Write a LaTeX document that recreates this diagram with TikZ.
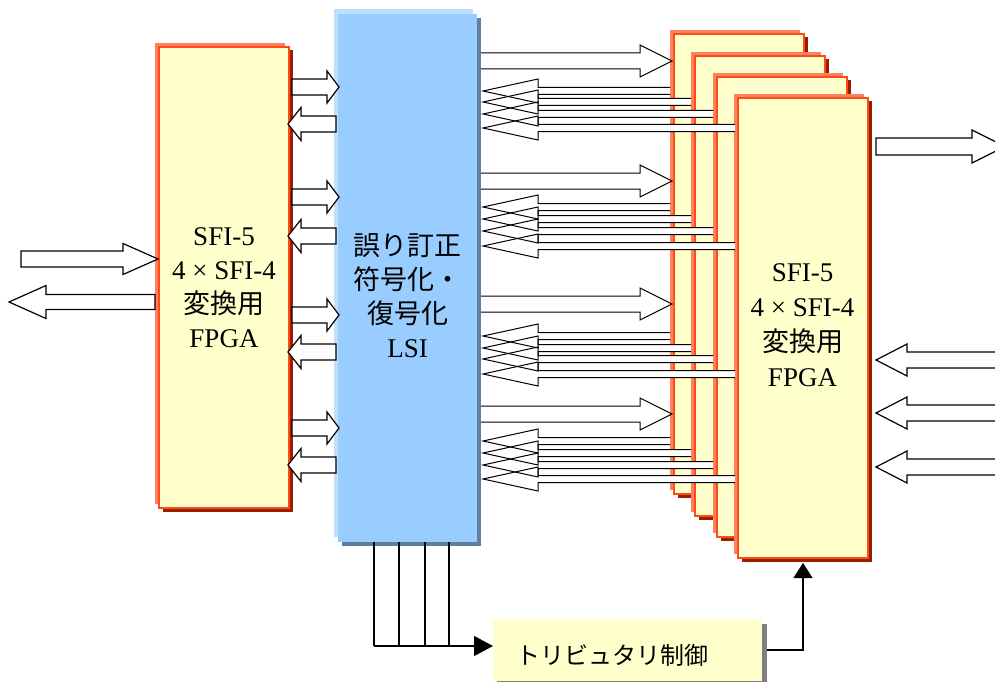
\documentclass[tikz,border=0pt]{standalone}
\usepackage{fontspec}
\setmainfont{Liberation Serif}
\newfontfamily\jp{Noto Sans CJK JP}
\usetikzlibrary{arrows.meta}
\definecolor{fpgaFill}{HTML}{FFFFCC}
\definecolor{fpgaLine}{HTML}{FF4A1A}
\definecolor{fpgaBack}{HTML}{FF7F5F}
\definecolor{fpgaShadow}{HTML}{9A1E00}
\definecolor{lsiFill}{HTML}{99CCFF}
\definecolor{lsiBack}{HTML}{BFDFFF}
\definecolor{lsiShadow}{HTML}{5F7FA0}
\definecolor{tribShadow}{HTML}{808080}
\tikzset{
  fpga/.style={draw=fpgaLine, fill=fpgaFill, line width=1.3pt, inner sep=0pt, outer sep=0pt},
  lsibox/.style={fill=lsiFill, inner sep=0pt, outer sep=0pt},
  tribbox/.style={fill=fpgaFill, inner sep=0pt, outer sep=0pt},
  blocktxt/.style={align=center, font=\fontsize{27}{34}\selectfont},
  barrow/.style={draw=black, fill=white, line width=1.2pt, line join=miter},
  tarrow/.style={draw=black, line width=1pt, line join=miter},
  conn/.style={draw=black, line width=1.1pt}
}
% block arrow: tail x, tip x, centre y, shaft half, head half, head base x
\newcommand\barr[6]{%
  \filldraw[barrow] (#1,#3-#4) -- (#6,#3-#4) -- (#6,#3-#5) -- (#2,#3) -- (#6,#3+#5) -- (#6,#3+#4) -- (#1,#3+#4) -- cycle;}
\newcommand\farr[6]{%
  \fill[white] (#1,#3-#4) -- (#6,#3-#4) -- (#6,#3-#5) -- (#2,#3) -- (#6,#3+#5) -- (#6,#3+#4) -- (#1,#3+#4) -- cycle;}
\newcommand\darr[6]{%
  \draw[tarrow] (#1,#3-#4) -- (#6,#3-#4) -- (#6,#3-#5) -- (#2,#3) -- (#6,#3+#5) -- (#6,#3+#4) -- (#1,#3+#4);}
% group of thin arrows: right centre, four left centres
\newcommand\grp[5]{%
  \farr{481}{672}{#1}{8}{16}{640}%
  \farr{670}{483}{#2}{3.5}{12}{538}%
  \farr{691}{483}{#3}{3.5}{12}{538}%
  \farr{713}{483}{#4}{3.5}{12}{538}%
  \farr{735}{483}{#5}{3.5}{12}{538}%
  \darr{481}{672}{#1}{8}{16}{640}%
  \darr{670}{483}{#2}{3.5}{12}{538}%
  \darr{691}{483}{#3}{3.5}{12}{538}%
  \darr{713}{483}{#4}{3.5}{12}{538}%
  \darr{735}{483}{#5}{3.5}{12}{538}}
% fpga box: name, x0, y0, w, h
\newcommand\fpgabox[5]{%
  \fill[fpgaShadow] (#2+4,#3+3.5) rectangle ++(#4,#5);
  \fill[fpgaBack] (#2-4,#3-4) rectangle ++(#4,#5);
  \node[fpga, minimum width=#4, minimum height=#5, anchor=north west] (#1) at (#2,#3) {};}
\begin{document}
\begin{tikzpicture}[x=1pt, y=-1pt]
\useasboundingbox (0,0) rectangle (995,682);
\clip (0,0) rectangle (995,682);

% coordinates for the LSI control lines
\coordinate (c1) at (374,646);
\coordinate (c2) at (399,646);
\coordinate (c3) at (425,646);
\coordinate (c4) at (449,646);

% LSI
\fill[lsiShadow] (342,18) rectangle (481,546);
\fill[lsiBack] (334,9) rectangle (473,537);
\node[lsibox, minimum width=139, minimum height=528, anchor=north west] (lsi) at (338,14) {};
\node[blocktxt, font=\fontsize{27}{34}\selectfont\jp] (lsit) at (407.5,296) {誤り訂正\\符号化・\\復号化\\{\rmfamily LSI}};

% left FPGA
\fpgabox{fl}{159}{47}{130}{461}
\node[blocktxt] (flt) at (224,287.5) {SFI-5\\4 × SFI-4\\{\jp 変換用}\\FPGA};

% right FPGA stack
\fpgabox{b1}{674}{34}{130}{460}
\fpgabox{b2}{695}{56}{130}{460}
\fpgabox{b3}{717}{77}{130}{460}
\fpgabox{b4}{738}{98}{130}{460}
\node[blocktxt, font=\fontsize{27}{35}\selectfont] (b4t) at (802.5,325) {SFI-5\\4 × SFI-4\\{\jp 変換用}\\FPGA};

% lines from LSI bottom to tributary control
\draw[conn] (c1 |- lsi.south) -- (c1);
\draw[conn] (c2 |- lsi.south) -- (c2);
\draw[conn] (c3 |- lsi.south) -- (c3);
\draw[conn] (c4 |- lsi.south) -- (c4);

% block arrows between left FPGA and LSI
\barr{292}{339}{87}{8}{16}{327}
\barr{336}{288}{124}{8}{16.5}{301}
\barr{292}{339}{197}{8}{16}{327}
\barr{336}{288}{236}{8}{16.5}{301}
\barr{292}{339}{315}{8}{16}{327}
\barr{336}{288}{352}{8}{16.5}{301}
\barr{292}{339}{428}{8}{16}{327}
\barr{336}{288}{465}{8}{16.5}{301}

% external arrows on the left
\barr{21}{158}{259}{8}{15.5}{123}
\barr{155}{9}{302}{7.5}{16.5}{46}

% thin arrow groups between LSI and the FPGA stack
\grp{61}{91}{102}{114}{128}
\grp{181}{207}{219}{231}{246}
\grp{304}{336}{348}{359}{374}
\grp{414}{441}{453}{465}{479}

% external arrows on the right
\barr{876}{1005}{146.5}{8.5}{16.5}{972}
\barr{1010}{876}{360}{8}{16}{907}
\barr{1010}{876}{413}{8}{16}{907}
\barr{1010}{876}{467}{8}{16}{907}

% tributary control box
\fill[tribShadow] (497,624) rectangle (767,690);
\node[tribbox, minimum width=269, minimum height=62, anchor=north west] (trib) at (493,619) {};
\node[font=\fontsize{24}{28}\selectfont\jp] (tribt) at (612.5,655) {トリビュタリ制御};

\draw[conn, -{Triangle[length=19pt, width=20pt]}] (c1) -- (c1 -| trib.west);
\coordinate (b4in) at ([yshift=-5pt]b4.south);
\draw[conn, shorten <=5pt, -{Triangle[length=15pt, width=19pt]}] (trib.east) -| (b4in);
\end{tikzpicture}
\end{document}
